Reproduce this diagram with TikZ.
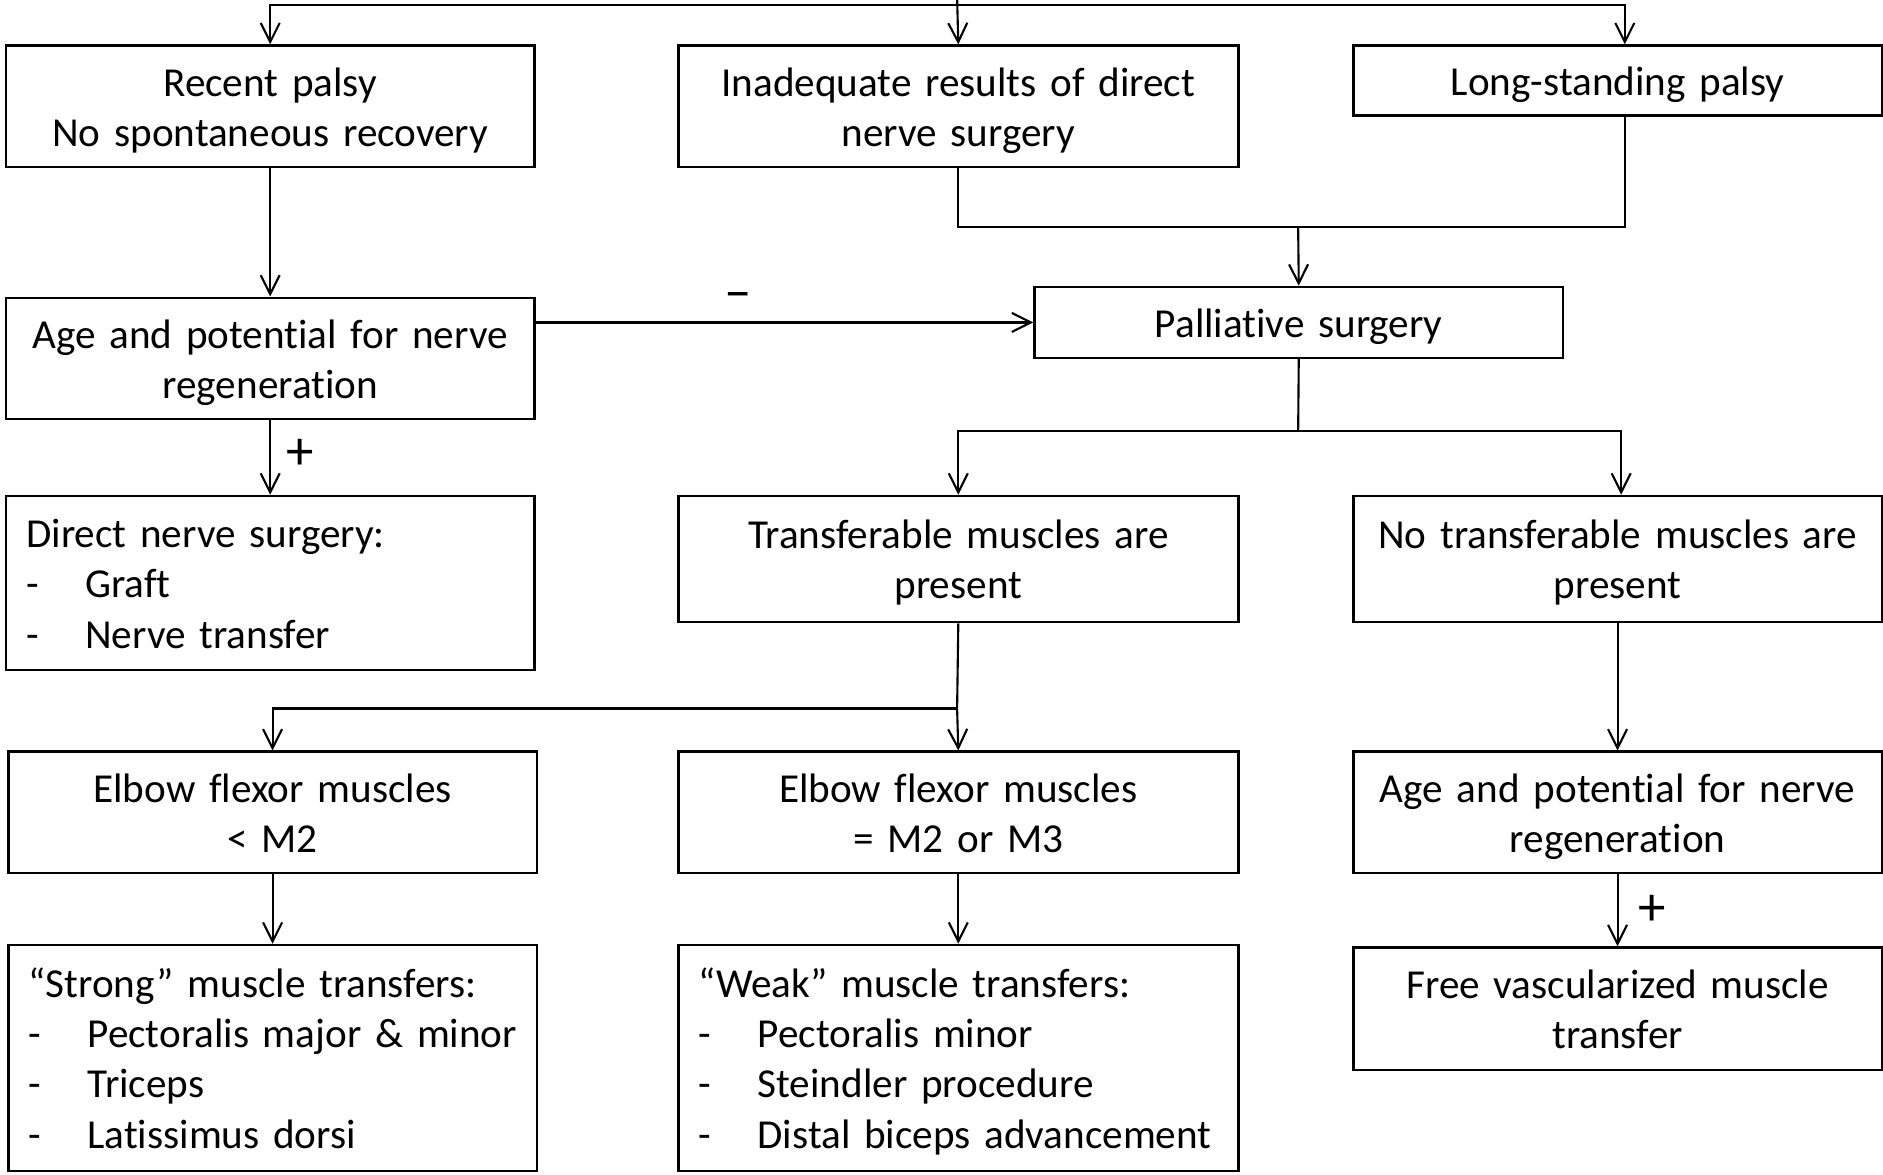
\documentclass[tikz,border=0pt]{standalone}
\usepackage{fontspec}
\setmainfont{Carlito}[Ligatures=CommonOff]
\usetikzlibrary{arrows.meta}
\newcommand{\itm}{\makebox[0.49cm][l]{-}}
\newcommand{\topstrut}{\rule{0pt}{10.6pt}}
\begin{document}
\begin{tikzpicture}[x=0.01cm,y=-0.01cm,font=\fontsize{9.75}{11.9}\selectfont,
  box/.style={draw,line width=0.6pt,inner xsep=0.1cm,inner ysep=0pt,align=center,text width=4.2cm,minimum height=1.01cm,
    execute at begin node=\topstrut,execute at end node=\strut},
  widebox/.style={box,text width=4.46cm},
  listbox/.style={box,align=left,execute at begin node={\leftskip=0.07cm\hyphenpenalty=10000\topstrut}},
  widelist/.style={listbox,text width=4.46cm},
  link/.style={line width=0.5pt,-{Straight Barb[length=4.5pt,width=4.5pt]}},
  sign/.style={inner sep=0pt,font=\fontsize{13}{14}\selectfont}]
\useasboundingbox (0,0) rectangle (1568,978);
\node[box] (recent) at (225,88.5) {Recent palsy\\No spontaneous recovery};
\node[widebox] (inadequate) at (798,88.5) {Inadequate results of direct\\nerve surgery};
\node[box,minimum height=0.58cm] (longstanding) at (1347,67) {Long-standing palsy};
\node[box,minimum height=0.59cm] (palliative) at (1081.5,268.5) {Palliative surgery};
\node[box] (agel) at (225,298.5) {Age and potential for nerve\\regeneration};
\node[listbox,minimum height=1.45cm] (direct) at (225,485.5) {Direct nerve surgery:\\\itm Graft\\\itm Nerve transfer};
\node[widebox,minimum height=1.05cm] (transf) at (798,465.5) {Transferable muscles are\\present};
\node[box,minimum height=1.05cm] (notransf) at (1347,465.5) {No transferable muscles are\\present};
\node[box] (lowm) at (227,676.5) {Elbow flexor muscles\\< M2};
\node[widebox] (midm) at (798,676.5) {Elbow flexor muscles\\= M2 or M3};
\node[box] (ager) at (1347,676.5) {Age and potential for nerve\\regeneration};
\node[listbox,minimum height=1.88cm] (strong) at (227,881) {“Strong” muscle transfers:\\\itm Pectoralis major \& minor\\\itm Triceps\\\itm Latissimus dorsi};
\node[widelist,minimum height=1.88cm] (weak) at (798,881) {“Weak” muscle transfers:\\\itm Pectoralis minor\\\itm Steindler procedure\\\itm Distal biceps advancement};
\node[box,minimum height=1.02cm] (free) at (1347,840) {Free vascularized muscle\\transfer};
\coordinate (root) at (797,-2);
\coordinate (bar) at (797,4);
\coordinate (merge) at (1081,189);
\coordinate (split) at (1081,359);
\coordinate (fork) at (797,590);
\draw[link] (root) -- (inadequate.north);
\draw[link] (bar) -| (recent.north);
\draw[link] (bar) -| ([xshift=0.06cm]longstanding.north);
\draw[line width=0.5pt] (inadequate.south) |- (merge) -| ([xshift=0.06cm]longstanding.south);
\draw[link] (merge) -- (palliative.north);
\draw[link] (recent) -- (agel);
\draw[link] (agel.east |- palliative.west) -- node[sign,pos=0.406,yshift=0.18cm] (minus) {\textendash} (palliative.west);
\draw[link] (agel) -- node[sign,xshift=0.25cm,yshift=0.03cm] (plusl) {+} (direct);
\draw[line width=0.5pt] (palliative.south) -- (split);
\draw[link] (split) -| (transf.north);
\draw[link] (split) -| ([xshift=0.03cm]notransf.north);
\draw[line width=0.5pt] (transf.south) -- (fork);
\draw[link] (fork) -| (lowm.north);
\draw[link] (fork) -- (midm.north);
\draw[link] (notransf) -- (ager);
\draw[link] (lowm) -- (strong);
\draw[link] (midm) -- (weak);
\draw[link] (ager) -- node[sign,xshift=0.29cm] (plusr) {+} (free);
\end{tikzpicture}
\end{document}
